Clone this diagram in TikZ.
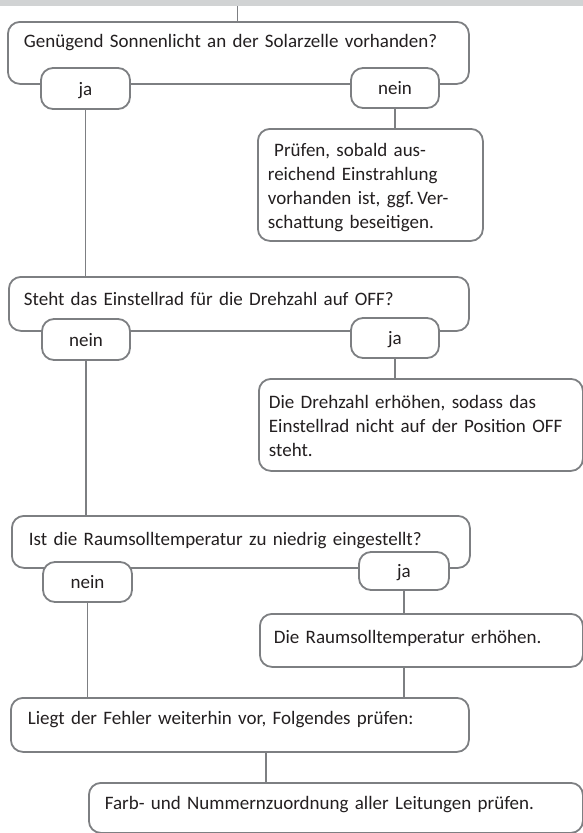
\documentclass[tikz,border=0pt]{standalone}
\usepackage{fontspec}
\setmainfont{Carlito}
\definecolor{linegray}{HTML}{7D7F82}
\definecolor{bandgray}{HTML}{D1D3D4}
\definecolor{textgray}{HTML}{231F20}
\begin{document}
\begin{tikzpicture}[x=1pt,y=-1pt,
    font=\fontsize{19}{23.7}\selectfont, text=textgray,
    box/.style={draw=linegray, line width=1.8pt, fill=white, rounded corners=12pt,
        anchor=north west, inner ysep=0pt, align=left},
    answer/.style={draw=linegray, line width=1.8pt, fill=white, rounded corners=12pt,
        minimum width=88pt, minimum height=40pt, inner sep=0pt,
        text height=13pt, text depth=0pt},
    conn/.style={draw=linegray, line width=1.8pt}]
    \useasboundingbox (0,0) rectangle (583,833);
    \fill[bandgray] (0,0) rectangle (583,6);
    \coordinate (band) at (237.5,6);

    % questions and hints
    \node[box, inner xsep=16pt, text width=429pt, text height=26pt, text depth=36pt] (Q1) at (7,21)
        {Genügend Sonnenlicht an der Solarzelle vorhanden?};
    \node[box, inner xsep=10pt, text width=205pt, text height=28pt, text depth=84pt] (P1) at (257,128)
        {\ Prüfen, sobald aus-\\reichend Einstrahlung\\vorhanden ist, ggf.\,Ver-\\schattung beseitigen.};
    \node[box, inner xsep=15pt, text width=430pt, text height=29pt, text depth=25pt] (Q2) at (8,276)
        {Steht das Einstellrad für die Drehzahl auf OFF?};
    \node[box, inner xsep=10pt, text width=304pt, text height=30pt, text depth=62pt] (D1) at (258,378)
        {Die Drehzahl erhöhen, sodass das\\Einstellrad nicht auf der Position OFF\\steht.};
    \node[box, inner xsep=17pt, text width=424pt, text height=30pt, text depth=22pt] (Q3) at (11,515)
        {Ist die Raumsolltemperatur zu niedrig eingestellt?};
    \node[box, inner xsep=14pt, text width=295pt, text height=30pt, text depth=23pt] (R1) at (259,613)
        {Die Raumsolltemperatur erhöhen.};
    \node[box, inner xsep=17pt, text width=424pt, text height=27pt, text depth=27pt] (F1) at (10,697)
        {Liegt der Fehler weiterhin vor, Folgendes prüfen:};
    \node[box, inner xsep=16pt, text width=462pt, text height=27pt, text depth=23pt] (L1) at (88,782)
        {Farb- und Nummernzuordnung aller Leitungen prüfen.};

    % answers
    \node[answer, minimum width=89pt, minimum height=41pt] (J1) at (85.5,88.5) {ja};
    \node[answer] (N1) at (395,88) {nein};
    \node[answer, minimum height=41pt] (N2) at (86,339.5) {nein};
    \node[answer] (J2) at (395,338) {ja};
    \node[answer, minimum width=89pt] (N3) at (87.5,582) {nein};
    \node[answer, minimum width=90pt, minimum height=38pt] (J3) at (404,571) {ja};

    \draw[conn] (band) -- (band |- Q1.north);
    \draw[conn] (J1.south) -- (J1.south |- Q2.north);
    \draw[conn] (N1.south) -- (N1.south |- P1.north);
    \draw[conn] (N2.south) -- (N2.south |- Q3.north);
    \draw[conn] (J2.south) -- (J2.south |- D1.north);
    \draw[conn] (N3.south) -- (N3.south |- F1.north);
    \draw[conn] (J3.south) -- (J3.south |- R1.north);
    \draw[conn] (J3.south |- R1.south) -- (J3.south |- F1.north);
    \draw[conn] ([xshift=26pt]F1.south) -- ([xshift=26pt]F1.south |- L1.north);
\end{tikzpicture}
\end{document}
